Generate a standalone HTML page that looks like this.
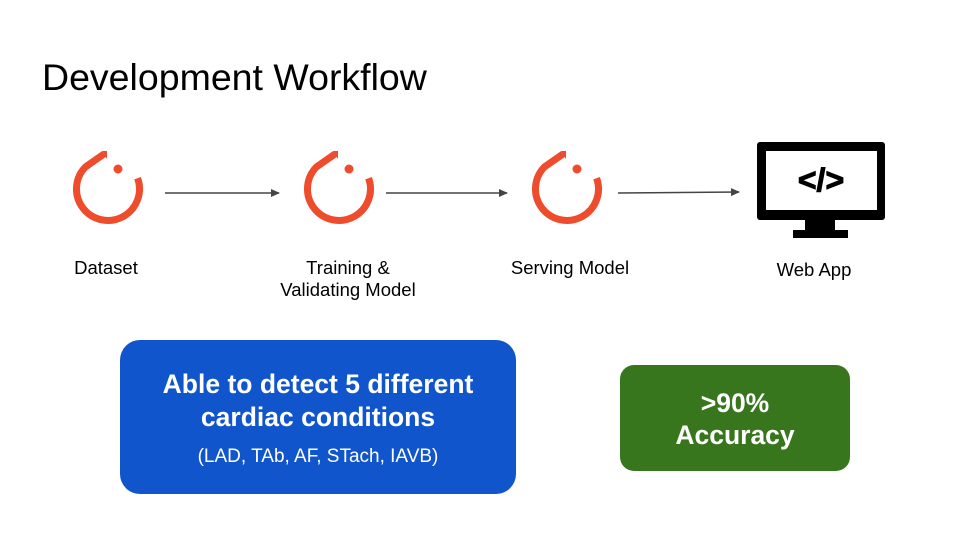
<!DOCTYPE html>
<html><head><meta charset="utf-8"><style>
html,body{margin:0;padding:0;background:#fff}
body{width:960px;height:540px;position:relative;overflow:hidden;font-family:"Liberation Sans",Arial,sans-serif}
.t{position:absolute;font-size:18.5px;color:#000;text-align:center;line-height:22px}
.box{position:absolute;color:#fff;text-align:center;font-weight:bold}
</style></head><body>
<div style="position:absolute;left:42px;top:56px;font-size:37.5px;color:#000">Development Workflow</div>
<svg width="960" height="540" style="position:absolute;left:0;top:0">
<defs>
<g id="pt">
<path d="M29.6,-10.8 A31.5,31.5 0 1 1 -22.3,-22.3 L-4,-35" fill="none" stroke="#ee4c2c" stroke-width="7" stroke-linejoin="round"/>
<path d="M-6,-38 L-1,-38 L-1,-30 Z" fill="#ee4c2c"/>
<circle cx="10" cy="-20" r="4.5" fill="#ee4c2c"/>
</g>
<marker id="ah" markerWidth="10" markerHeight="10" refX="8" refY="5" orient="auto" markerUnits="userSpaceOnUse"><path d="M0,1 L9,5 L0,9 Z" fill="#444"/></marker>
</defs>
<use href="#pt" x="108" y="189"/>
<use href="#pt" x="339" y="189"/>
<use href="#pt" x="567" y="189"/>
<g stroke="#444" stroke-width="1.5" marker-end="url(#ah)">
<line x1="165" y1="193" x2="279" y2="193"/>
<line x1="386" y1="193" x2="507" y2="193"/>
<line x1="618" y1="193" x2="739" y2="192"/>
</g>
<rect x="757" y="142" width="128" height="78" rx="3" fill="#000"/>
<rect x="766" y="151" width="111" height="59" fill="#fff"/>
<rect x="805" y="219" width="30" height="12" fill="#000"/>
<rect x="793" y="230" width="55" height="8" fill="#000"/>
<text x="821" y="191" font-family="Liberation Sans,Arial,sans-serif" font-weight="bold" font-size="32" text-anchor="middle" fill="#000" stroke="#000" stroke-width="1">&lt;/&gt;</text>
</svg>
<div class="t" style="left:46px;top:257px;width:120px">Dataset</div>
<div class="t" style="left:258px;top:257px;width:180px">Training &amp;<br>Validating Model</div>
<div class="t" style="left:480px;top:257px;width:180px">Serving Model</div>
<div class="t" style="left:754px;top:259px;width:120px">Web App</div>
<div class="box" style="left:120px;top:340px;width:396px;height:154px;border-radius:20px;background:#1155cc">
<div style="font-size:26.5px;line-height:33px;margin-top:28px">Able to detect 5 different<br>cardiac conditions</div>
<div style="font-size:19px;font-weight:normal;margin-top:12px">(LAD, TAb, AF, STach, IAVB)</div>
</div>
<div class="box" style="left:620px;top:365px;width:230px;height:106px;border-radius:14px;background:#38761d">
<div style="font-size:26.5px;line-height:32px;margin-top:22px">&gt;90%<br>Accuracy</div>
</div>
</body></html>
